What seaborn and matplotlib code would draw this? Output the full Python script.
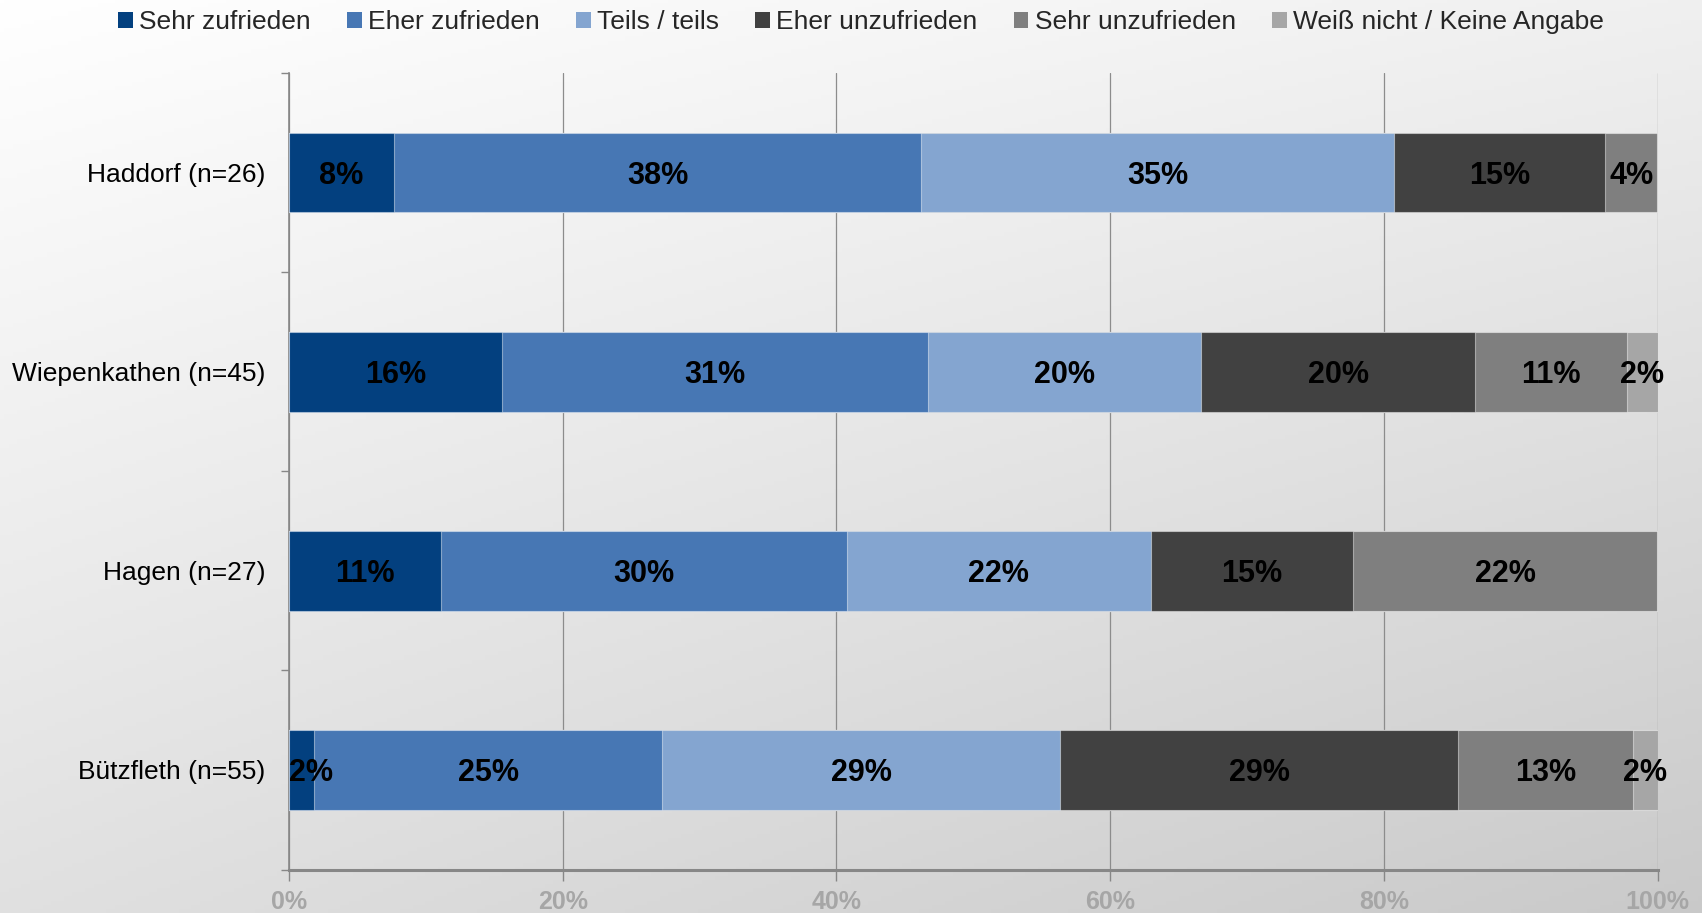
import numpy as np
import pandas as pd
import matplotlib
matplotlib.use("Agg")
import matplotlib.pyplot as plt
import seaborn as sns
from matplotlib.patches import Patch

# ---------------- data ----------------
categories = ["Haddorf (n=26)", "Wiepenkathen (n=45)", "Hagen (n=27)", "Bützfleth (n=55)"]
responses = ["Sehr zufrieden", "Eher zufrieden", "Teils / teils",
             "Eher unzufrieden", "Sehr unzufrieden", "Weiß nicht / Keine Angabe"]
sehr_zufrieden = [7.69, 15.56, 11.11, 1.82]
eher_zufrieden = [38.46, 31.11, 29.63, 25.45]
teils_teils = [34.62, 20.00, 22.22, 29.09]
eher_unzufrieden = [15.38, 20.00, 14.81, 29.09]
sehr_unzufrieden = [3.85, 11.11, 22.22, 12.73]
weiss_nicht = [0.0, 2.22, 0.0, 1.82]
colors = ["#03407F", "#4777B4", "#84A5D0", "#414141", "#7F7F7F", "#A6A6A6"]
x_ticks = [0, 20, 40, 60, 80, 100]
x_tick_labels = ["0%", "20%", "40%", "60%", "80%", "100%"]

series = [sehr_zufrieden, eher_zufrieden, teils_teils,
          eher_unzufrieden, sehr_unzufrieden, weiss_nicht]

sns.set_theme(style="white")
plt.rcParams["font.family"] = ["Liberation Sans", "DejaVu Sans"]

W, H = 1702, 913
fig = plt.figure(figsize=(W / 100, H / 100), dpi=100)

# background gradient (white top-left -> light grey bottom-right)
bg = fig.add_axes([0, 0, 1, 1], zorder=-10)
gx = np.linspace(0, 1, 400)[None, :]
gy = np.linspace(0, 1, 220)[:, None]
grad = 1.0 - (0.06 * gx + 0.12 * gy + 0.03 * gx * gy)
bg.imshow(np.dstack([grad, grad, grad]), aspect="auto", extent=[0, 1, 0, 1],
          origin="upper")
bg.axis("off")

ax = fig.add_axes([289 / W, 1 - 869.5 / H, (1657.5 - 289) / W, (869.5 - 73) / H])
ax.set_facecolor("none")

df = pd.DataFrame({"Ort": categories})
for name, vals in zip(responses, series):
    df[name] = vals
cum = df[responses].cumsum(axis=1)

for i in reversed(range(len(responses))):
    sns.barplot(x=cum[responses[i]], y=df["Ort"], orient="h", color=colors[i],
                saturation=1, width=0.4, ax=ax, edgecolor=(1, 1, 1, 0.45),
                linewidth=0.8, zorder=3)

ax.set_xlim(0, 100)
ax.set_ylim(3.5, -0.5)
ax.set_xlabel("")
ax.set_ylabel("")

# grid
ax.set_xticks(x_ticks)
ax.set_xticklabels(x_tick_labels)
ax.grid(axis="x", color="#8C8C8C", linewidth=0.9, zorder=0)
ax.grid(axis="y", visible=False)
ax.set_axisbelow(True)

for s in ["top", "right"]:
    ax.spines[s].set_visible(False)
ax.spines["left"].set_color("#878787")
ax.spines["left"].set_linewidth(1.2)
ax.spines["bottom"].set_color("#878787")
ax.spines["bottom"].set_linewidth(2.2)

ax.tick_params(axis="x", bottom=True, length=8, width=1.0, color="#878787",
               pad=7, labelsize=18, labelcolor="#A6A6A6")
for t in ax.get_xticklabels():
    t.set_fontweight("bold")
ax.tick_params(axis="y", which="major", left=False, length=0, pad=17,
               labelsize=19, labelcolor="black")
ax.set_yticks(np.arange(-0.5, 4.0, 1.0), minor=True)
ax.tick_params(axis="y", which="minor", left=True, length=6, width=1.0,
               color="#878787")

# value labels
fig.canvas.draw()
renderer = fig.canvas.get_renderer()
ax_left_px = ax.get_window_extent(renderer).x0
for j in range(len(categories)):
    prev = 0.0
    for i, name in enumerate(responses):
        v = df.loc[j, name]
        if v > 0:
            t = ax.text(prev + v / 2, j, f"{v:.0f}%", ha="center",
                        va="center_baseline", fontsize=22, fontweight="bold",
                        color="black", zorder=5)
            bb = t.get_window_extent(renderer)
            if bb.x0 < ax_left_px:
                shift = ax_left_px - bb.x0
                xd = ax.transData.transform((prev + v / 2, j))[0] + shift
                t.set_x(ax.transData.inverted().transform((xd, 0))[0])
        prev += v

handles = [Patch(facecolor=c, edgecolor="none") for c in colors]
fig.legend(handles, responses, loc="center", bbox_to_anchor=(0.506, 0.976),
           ncol=6, frameon=False, fontsize=19, handlelength=0.55,
           handleheight=0.55, handletextpad=0.25, columnspacing=1.37)

fig.savefig("out.png", dpi=100)
